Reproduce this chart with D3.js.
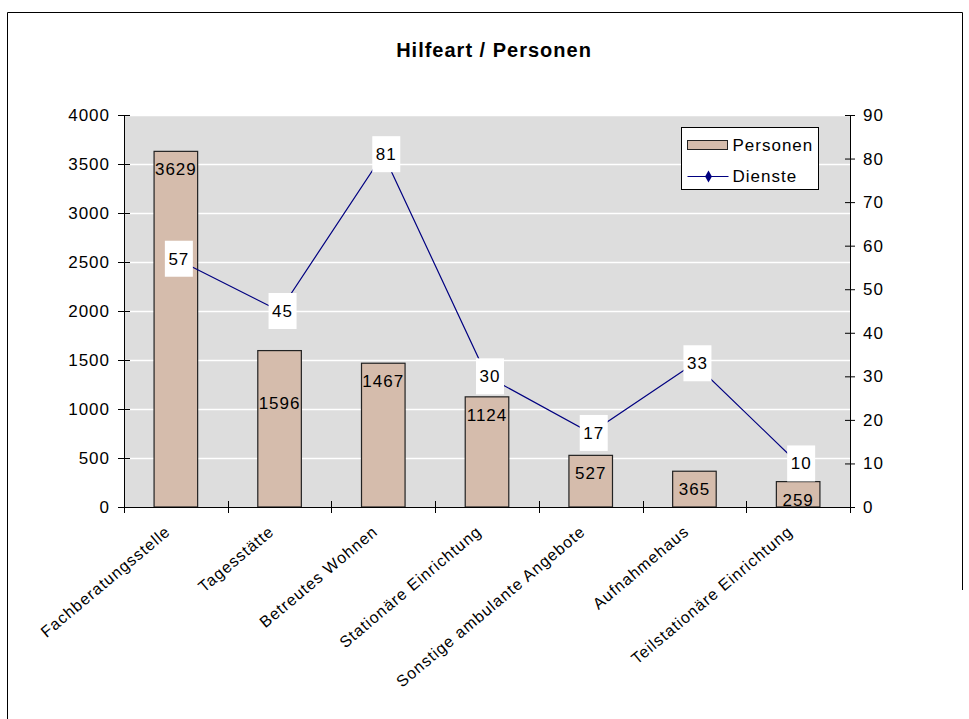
<!DOCTYPE html>
<html>
<head>
<meta charset="utf-8">
<script src="https://cdn.jsdelivr.net/npm/d3@7"></script>
<style>
    body { margin: 0; background: #fff; }
    text { font-family: "Liberation Sans", Arial, sans-serif; }
</style>
</head>
<body>
<div id="chart"></div>
<script>
const categories = ["Fachberatungsstelle", "Tagesstätte", "Betreutes Wohnen", "Stationäre Einrichtung",
    "Sonstige ambulante Angebote", "Aufnahmehaus", "Teilstationäre Einrichtung"];
const personen = [3629, 1596, 1467, 1124, 527, 365, 259];
const dienste = [57, 45, 81, 30, 17, 33, 10];
const leftTicks = [0, 500, 1000, 1500, 2000, 2500, 3000, 3500, 4000];
const rightTicks = [0, 10, 20, 30, 40, 50, 60, 70, 80, 90];

const width = 969, height = 719;
const plot = { left: 124, right: 850, top: 115, bottom: 507 };
const fontSize = "17px", spacing = "1px";

const svg = d3.select("#chart").append("svg")
    .attr("width", width)
    .attr("height", height);

// outer frame (right edge stops above the bottom in the original)
svg.append("path")
    .attr("d", "M7.5,719 V12.5 H962.5 V590")
    .attr("fill", "none")
    .attr("stroke", "#000")
    .attr("stroke-width", 1);

svg.append("text")
    .attr("x", 494).attr("y", 57)
    .attr("text-anchor", "middle")
    .style("font-size", "20px")
    .style("font-weight", "bold")
    .style("letter-spacing", "1px")
    .text("Hilfeart / Personen");

const x = d3.scaleBand()
    .domain(categories)
    .range([plot.left, plot.right]);

const yLeft = d3.scaleLinear().domain([0, 4000]).range([plot.bottom, plot.top]);
const yRight = d3.scaleLinear().domain([0, 90]).range([plot.bottom, plot.top]);

// plot background
svg.append("rect")
    .attr("x", plot.left).attr("y", plot.top)
    .attr("width", plot.right - plot.left)
    .attr("height", plot.bottom - plot.top)
    .attr("fill", "#dddddd");

// gridlines
svg.append("g")
    .selectAll("line")
    .data(leftTicks.slice(1))
    .enter().append("line")
    .attr("x1", plot.left).attr("x2", plot.right)
    .attr("y1", d => Math.round(yLeft(d)) + 0.5)
    .attr("y2", d => Math.round(yLeft(d)) + 0.5)
    .attr("stroke", "#fff")
    .attr("stroke-width", 1.5);

// bars
const barW = x.bandwidth() * 0.42;
svg.append("g")
    .selectAll("rect")
    .data(personen)
    .enter().append("rect")
    .attr("x", (d, i) => x(categories[i]) + x.bandwidth() / 2 - barW / 2)
    .attr("y", d => yLeft(d))
    .attr("width", barW)
    .attr("height", d => plot.bottom - yLeft(d))
    .attr("fill", "#d5bcac")
    .attr("stroke", "#222")
    .attr("stroke-width", 1.2);

// bar labels (the Tagesstätte label sits lower, clear of the line label)
svg.append("g")
    .selectAll("text")
    .data(personen)
    .enter().append("text")
    .attr("x", (d, i) => x(categories[i]) + x.bandwidth() / 2)
    .attr("y", (d, i) => yLeft(d) + (i == 1 ? 52 : 18))
    .attr("dy", "0.35em")
    .attr("text-anchor", "middle")
    .style("font-size", fontSize)
    .style("letter-spacing", spacing)
    .text(d => d);

// axes
const axisLeft = d3.axisLeft(yLeft).tickValues(leftTicks).tickFormat(d3.format("d"))
    .tickSizeInner(6).tickSizeOuter(0).tickPadding(8);
const gL = svg.append("g")
    .attr("transform", `translate(${plot.left},0)`)
    .call(axisLeft);
gL.selectAll(".tick line").attr("x2", -6).attr("x1", 6);

const axisRight = d3.axisRight(yRight).tickValues(rightTicks).tickFormat(d3.format("d"))
    .tickSizeInner(6).tickSizeOuter(0).tickPadding(7);
const gR = svg.append("g")
    .attr("transform", `translate(${plot.right},0)`)
    .call(axisRight);
gR.selectAll(".tick line").attr("x1", -5).attr("x2", 5);

[gL, gR].forEach(g => {
    g.selectAll("text").style("font-size", fontSize).style("letter-spacing", spacing).attr("fill", "#000")
        .style("font-family", "'Liberation Sans', Arial, sans-serif");
    g.select(".domain").attr("stroke", "#000");
    g.selectAll(".tick line").attr("stroke", "#000");
});

// bottom axis with ticks at category boundaries
const gB = svg.append("g");
gB.append("line")
    .attr("x1", plot.left).attr("x2", plot.right)
    .attr("y1", plot.bottom + 0.5).attr("y2", plot.bottom + 0.5)
    .attr("stroke", "#000");
gB.selectAll("line.tk")
    .data(categories.concat([null]))
    .enter().append("line")
    .attr("class", "tk")
    .attr("x1", (d, i) => Math.round(plot.left + i * x.step()) + 0.5)
    .attr("x2", (d, i) => Math.round(plot.left + i * x.step()) + 0.5)
    .attr("y1", plot.bottom - 6)
    .attr("y2", plot.bottom + 6)
    .attr("stroke", "#000");

gB.selectAll("text")
    .data(categories)
    .enter().append("text")
    .attr("transform", d => `translate(${x(d) + x.bandwidth() / 2 - 8},${plot.bottom + 22}) rotate(-40)`)
    .attr("text-anchor", "end")
    .attr("dy", "0.35em")
    .style("font-size", "16px")
    .style("letter-spacing", spacing)
    .text(d => d);

// Dienste line
const line = d3.line()
    .x((d, i) => x(categories[i]) + x.bandwidth() / 2)
    .y(d => yRight(d));

svg.append("path")
    .datum(dienste)
    .attr("d", line)
    .attr("fill", "none")
    .attr("stroke", "#000080")
    .attr("stroke-width", 1.2);

const diamond = d3.symbol().type(d3.symbolDiamond).size(40);
svg.append("g")
    .selectAll("path")
    .data(dienste)
    .enter().append("path")
    .attr("d", diamond)
    .attr("transform", (d, i) => `translate(${x(categories[i]) + x.bandwidth() / 2},${yRight(d)})`)
    .attr("fill", "#000080");

// line labels in white boxes
const lbl = svg.append("g")
    .selectAll("g")
    .data(dienste)
    .enter().append("g")
    .attr("transform", (d, i) => `translate(${x(categories[i]) + x.bandwidth() / 2 + 3},${yRight(d)})`);
lbl.append("rect")
    .attr("x", -14).attr("y", -18)
    .attr("width", 28).attr("height", 36)
    .attr("fill", "#fff");
lbl.append("text")
    .attr("text-anchor", "middle")
    .attr("dy", "0.35em")
    .style("font-size", fontSize)
    .style("letter-spacing", spacing)
    .text(d => d);

// legend
const legend = svg.append("g").attr("transform", "translate(681.5,127.5)");
legend.append("rect")
    .attr("width", 137).attr("height", 62)
    .attr("fill", "#fff")
    .attr("stroke", "#000");
legend.append("rect")
    .attr("x", 6).attr("y", 13)
    .attr("width", 40).attr("height", 9)
    .attr("fill", "#d5bcac")
    .attr("stroke", "#222");
legend.append("text")
    .attr("x", 51).attr("y", 18)
    .attr("dy", "0.35em")
    .style("font-size", fontSize)
    .style("letter-spacing", spacing)
    .text("Personen");
legend.append("line")
    .attr("x1", 6).attr("x2", 47)
    .attr("y1", 49).attr("y2", 49)
    .attr("stroke", "#000080")
    .attr("stroke-width", 1.2);
legend.append("path")
    .attr("d", diamond)
    .attr("transform", "translate(27,49)")
    .attr("fill", "#000080");
legend.append("text")
    .attr("x", 51).attr("y", 49)
    .attr("dy", "0.35em")
    .style("font-size", fontSize)
    .style("letter-spacing", spacing)
    .text("Dienste");
</script>
</body>
</html>
